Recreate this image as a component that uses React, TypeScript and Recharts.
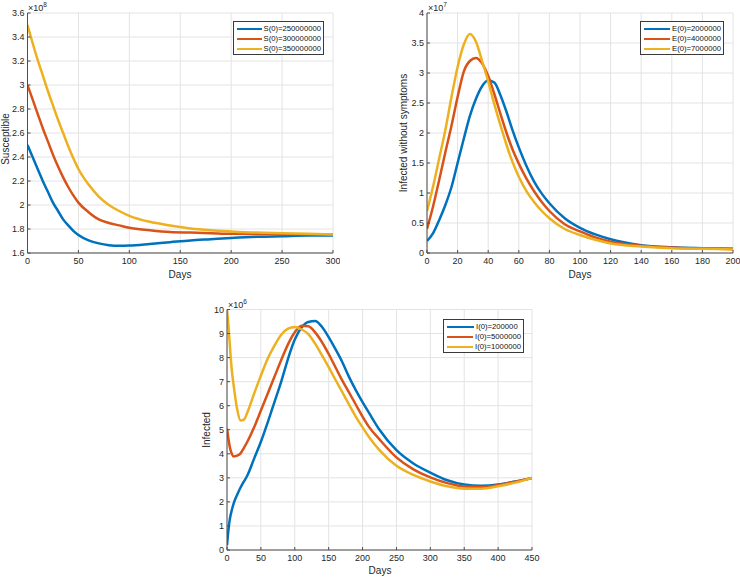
import React from 'react';
import { LineChart, Line, XAxis, YAxis, CartesianGrid, Legend } from 'recharts';

const FONT = '"Liberation Sans", Arial, Helvetica, sans-serif';
const BLUE = '#0072BD';
const RED = '#D95319';
const YEL = '#EDB120';
const AXIS = '#4d4d4d';
const TXT = '#262626';
const GRID = '#e3e3e3';

// ---------- Panel 1: Susceptible (x 1e8) ----------
const sDays = [0, 5, 10, 15, 20, 25, 30, 35, 40, 45, 50, 60, 70, 80, 90, 100, 120, 140, 160, 180, 200, 225, 250, 275, 300];
const s250 = [2.50, 2.40, 2.30, 2.20, 2.11, 2.02, 1.95, 1.88, 1.83, 1.785, 1.75, 1.705, 1.68, 1.665, 1.66, 1.662, 1.675, 1.69, 1.705, 1.715, 1.725, 1.735, 1.74, 1.745, 1.745];
const s300 = [3.00, 2.88, 2.76, 2.64, 2.53, 2.42, 2.32, 2.23, 2.15, 2.08, 2.02, 1.94, 1.88, 1.85, 1.83, 1.81, 1.79, 1.775, 1.77, 1.765, 1.76, 1.758, 1.757, 1.755, 1.755];
const s350 = [3.50, 3.35, 3.21, 3.08, 2.95, 2.83, 2.71, 2.60, 2.49, 2.39, 2.30, 2.17, 2.07, 2.00, 1.95, 1.91, 1.86, 1.83, 1.805, 1.79, 1.78, 1.77, 1.765, 1.76, 1.755];
const sXTicks = [0, 50, 100, 150, 200, 250, 300];
const sYTicks = [1.6, 1.8, 2, 2.2, 2.4, 2.6, 2.8, 3, 3.2, 3.4, 3.6];
const sNames = ['S(0)=250000000', 'S(0)=300000000', 'S(0)=350000000'];

// ---------- Panel 2: Infected without symptoms (x 1e7) ----------
const eDays = [0, 4, 8, 12, 16, 20, 24, 28, 32, 36, 40, 44, 48, 52, 56, 60, 65, 70, 75, 80, 90, 100, 110, 120, 140, 160, 180, 200];
const e2 = [0.20, 0.33, 0.55, 0.80, 1.10, 1.50, 1.90, 2.28, 2.57, 2.78, 2.88, 2.84, 2.63, 2.35, 2.04, 1.76, 1.45, 1.19, 0.99, 0.83, 0.58, 0.42, 0.31, 0.23, 0.13, 0.095, 0.08, 0.07];
const e4 = [0.40, 0.78, 1.22, 1.68, 2.12, 2.60, 3.02, 3.20, 3.25, 3.16, 2.95, 2.65, 2.32, 2.00, 1.72, 1.49, 1.24, 1.03, 0.85, 0.70, 0.48, 0.36, 0.26, 0.19, 0.12, 0.09, 0.075, 0.065];
const e7 = [0.70, 1.11, 1.58, 2.05, 2.60, 3.10, 3.47, 3.65, 3.52, 3.20, 2.86, 2.48, 2.13, 1.80, 1.51, 1.27, 1.03, 0.85, 0.70, 0.58, 0.40, 0.30, 0.22, 0.16, 0.11, 0.08, 0.07, 0.06];
const eXTicks = [0, 20, 40, 60, 80, 100, 120, 140, 160, 180, 200];
const eYTicks = [0, 0.5, 1, 1.5, 2, 2.5, 3, 3.5, 4];
const eNames = ['E(0)=2000000', 'E(0)=4000000', 'E(0)=7000000'];

// ---------- Panel 3: Infected (x 1e6) ----------
const iDays = [0, 2, 4, 7, 10, 15, 20, 25, 30, 40, 50, 60, 70, 80, 90, 100, 110, 120, 130, 140, 150, 160, 170, 180, 190, 200, 210, 225, 250, 275, 300, 325, 350, 375, 400, 425, 450];
const i200k = [0.2, 0.8, 1.25, 1.65, 1.95, 2.3, 2.6, 2.85, 3.1, 3.8, 4.5, 5.3, 6.15, 7.0, 7.95, 8.75, 9.25, 9.48, 9.52, 9.28, 8.85, 8.35, 7.82, 7.2, 6.65, 6.15, 5.68, 5.0, 4.15, 3.6, 3.22, 2.9, 2.72, 2.67, 2.72, 2.85, 3.0];
const i5M = [5.05, 4.65, 4.3, 4.0, 3.89, 3.92, 4.02, 4.25, 4.5, 5.1, 5.8, 6.5, 7.2, 7.9, 8.55, 9.05, 9.32, 9.3, 9.05, 8.65, 8.15, 7.6, 7.05, 6.55, 6.05, 5.55, 5.1, 4.6, 3.85, 3.35, 3.02, 2.78, 2.64, 2.62, 2.7, 2.84, 3.0];
const i1M = [10.0, 9.4, 8.6, 7.5, 6.8, 5.85, 5.38, 5.42, 5.72, 6.5, 7.25, 7.95, 8.5, 8.95, 9.2, 9.27, 9.17, 8.98, 8.58, 8.1, 7.6, 7.08, 6.57, 6.05, 5.55, 5.1, 4.68, 4.15, 3.5, 3.12, 2.85, 2.65, 2.55, 2.55, 2.65, 2.8, 3.0];
const iXTicks = [0, 50, 100, 150, 200, 250, 300, 350, 400, 450];
const iYTicks = [0, 1, 2, 3, 4, 5, 6, 7, 8, 9, 10];
const iNames = ['I(0)=200000', 'I(0)=5000000', 'I(0)=1000000'];

const COLORS = [BLUE, RED, YEL];
const KEYS = ['a', 'b', 'c'];

function table(days: number[], a: number[], b: number[], c: number[]) {
  return days.map((x, i) => ({ x, a: a[i], b: b[i], c: c[i] }));
}

const fmt = (v: number) => String(Number(v.toFixed(2)));

const LegendBox = (props: any) => {
  const payload = [...(props.payload || [])].sort(
    (p: any, q: any) => KEYS.indexOf(String(p.dataKey)) - KEYS.indexOf(String(q.dataKey))
  );
  return (
    <div
      style={{
        border: '1px solid #3a3a3a',
        background: '#fff',
        padding: '2px 2px 2px 3px',
        fontFamily: FONT,
        fontSize: 7.7,
        color: '#111',
        lineHeight: '10px',
        boxSizing: 'border-box',
        width: '100%',
        height: '100%',
      }}
    >
      {payload.map((p: any) => (
        <div key={p.value} style={{ display: 'flex', alignItems: 'center', height: 10 }}>
          <span style={{ display: 'inline-block', width: 27, height: 2.5, background: p.color, marginRight: 2 }} />
          <span>{p.value}</span>
        </div>
      ))}
    </div>
  );
};

type PanelProps = {
  left: number;
  top: number;
  width: number;
  height: number;
  margin: { top: number; right: number; bottom: number; left: number };
  rows: any[];
  names: string[];
  xDomain: [number, number];
  xTicks: number[];
  yDomain: [number, number];
  yTicks: number[];
  legend: { left: number; top: number; width: number; height: number };
};

function Panel(p: PanelProps) {
  const tickStyle = { fontSize: 9, fill: TXT, fontFamily: FONT };
  return (
    <div style={{ position: 'absolute', left: p.left, top: p.top }}>
      <LineChart width={p.width} height={p.height} data={p.rows} margin={p.margin}>
        <CartesianGrid stroke={GRID} strokeWidth={1} />
        <XAxis
          xAxisId={0}
          dataKey="x"
          type="number"
          domain={p.xDomain}
          ticks={p.xTicks}
          interval={0}
          allowDataOverflow
          height={20}
          tickSize={-3}
          tickMargin={8}
          tick={tickStyle}
          stroke={AXIS}
          tickFormatter={fmt}
        />
        <XAxis
          xAxisId="top"
          orientation="top"
          type="number"
          domain={p.xDomain}
          ticks={p.xTicks}
          interval={0}
          allowDataOverflow
          height={0}
          tickSize={-3}
          tick={false}
          stroke={AXIS}
        />
        <YAxis
          yAxisId={0}
          type="number"
          domain={p.yDomain}
          ticks={p.yTicks}
          interval={0}
          allowDataOverflow
          width={20}
          tickSize={-3}
          tickMargin={6}
          tick={tickStyle}
          stroke={AXIS}
          tickFormatter={fmt}
        />
        <YAxis
          yAxisId="right"
          orientation="right"
          type="number"
          domain={p.yDomain}
          ticks={p.yTicks}
          interval={0}
          allowDataOverflow
          width={0}
          tickSize={-3}
          tick={false}
          stroke={AXIS}
        />
        <Legend
          layout="vertical"
          align="center"
          verticalAlign="middle"
          content={<LegendBox />}
          wrapperStyle={{ left: p.legend.left, top: p.legend.top, width: p.legend.width, height: p.legend.height }}
        />
        {KEYS.map((k, i) => (
          <Line
            key={k}
            xAxisId={0}
            yAxisId={0}
            type="monotone"
            dataKey={k}
            name={p.names[i]}
            stroke={COLORS[i]}
            strokeWidth={2.5}
            dot={false}
            activeDot={false}
            isAnimationActive={false}
          />
        ))}
      </LineChart>
    </div>
  );
}

const textBase: React.CSSProperties = { position: 'absolute', fontFamily: FONT, color: TXT, whiteSpace: 'nowrap' };

function Exponent({ left, top, exp }: { left: number; top: number; exp: string }) {
  return (
    <div style={{ ...textBase, left, top, fontSize: 9, lineHeight: '10px' }}>
      ×10<span style={{ fontSize: 6.5, position: 'relative', top: -4 }}>{exp}</span>
    </div>
  );
}

function XLabel({ cx, cy, text }: { cx: number; cy: number; text: string }) {
  return (
    <div style={{ ...textBase, left: cx, top: cy, fontSize: 10, lineHeight: '12px', transform: 'translate(-50%, -50%)' }}>
      {text}
    </div>
  );
}

function YLabel({ cx, cy, text }: { cx: number; cy: number; text: string }) {
  return (
    <div
      style={{
        ...textBase,
        left: cx,
        top: cy,
        fontSize: 10,
        lineHeight: '12px',
        transform: 'translate(-50%, -50%) rotate(-90deg)',
      }}
    >
      {text}
    </div>
  );
}

export default function App() {
  return (
    <div style={{ position: 'absolute', left: 0, top: 0, width: 740, height: 579, background: '#fff', overflow: 'hidden' }}>
      <Panel
        left={0}
        top={0}
        width={340}
        height={285}
        margin={{ top: 13, right: 7, bottom: 12, left: 7.5 }}
        rows={table(sDays, s250, s300, s350)}
        names={sNames}
        xDomain={[0, 300]}
        xTicks={sXTicks}
        yDomain={[1.6, 3.6]}
        yTicks={sYTicks}
        legend={{ left: 233, top: 21, width: 91, height: 34 }}
      />
      <Panel
        left={370}
        top={0}
        width={370}
        height={285}
        margin={{ top: 13, right: 7, bottom: 12, left: 37 }}
        rows={table(eDays, e2, e4, e7)}
        names={eNames}
        xDomain={[0, 200]}
        xTicks={eXTicks}
        yDomain={[0, 4]}
        yTicks={eYTicks}
        legend={{ left: 270, top: 21, width: 84, height: 34 }}
      />
      <Panel
        left={180}
        top={285}
        width={360}
        height={294}
        margin={{ top: 24.5, right: 8, bottom: 9, left: 27 }}
        rows={table(iDays, i200k, i5M, i1M)}
        names={iNames}
        xDomain={[0, 450]}
        xTicks={iXTicks}
        yDomain={[0, 10]}
        yTicks={iYTicks}
        legend={{ left: 263, top: 34, width: 81, height: 34 }}
      />
      <Exponent left={28} top={3} exp="8" />
      <Exponent left={428} top={3} exp="7" />
      <Exponent left={228} top={300} exp="6" />
      <XLabel cx={180} cy={275} text="Days" />
      <XLabel cx={580} cy={275} text="Days" />
      <XLabel cx={380} cy={571} text="Days" />
      <YLabel cx={6} cy={139} text="Susceptible" />
      <YLabel cx={404} cy={133} text="Infected without symptoms" />
      <YLabel cx={207} cy={430} text="Infected" />
    </div>
  );
}
